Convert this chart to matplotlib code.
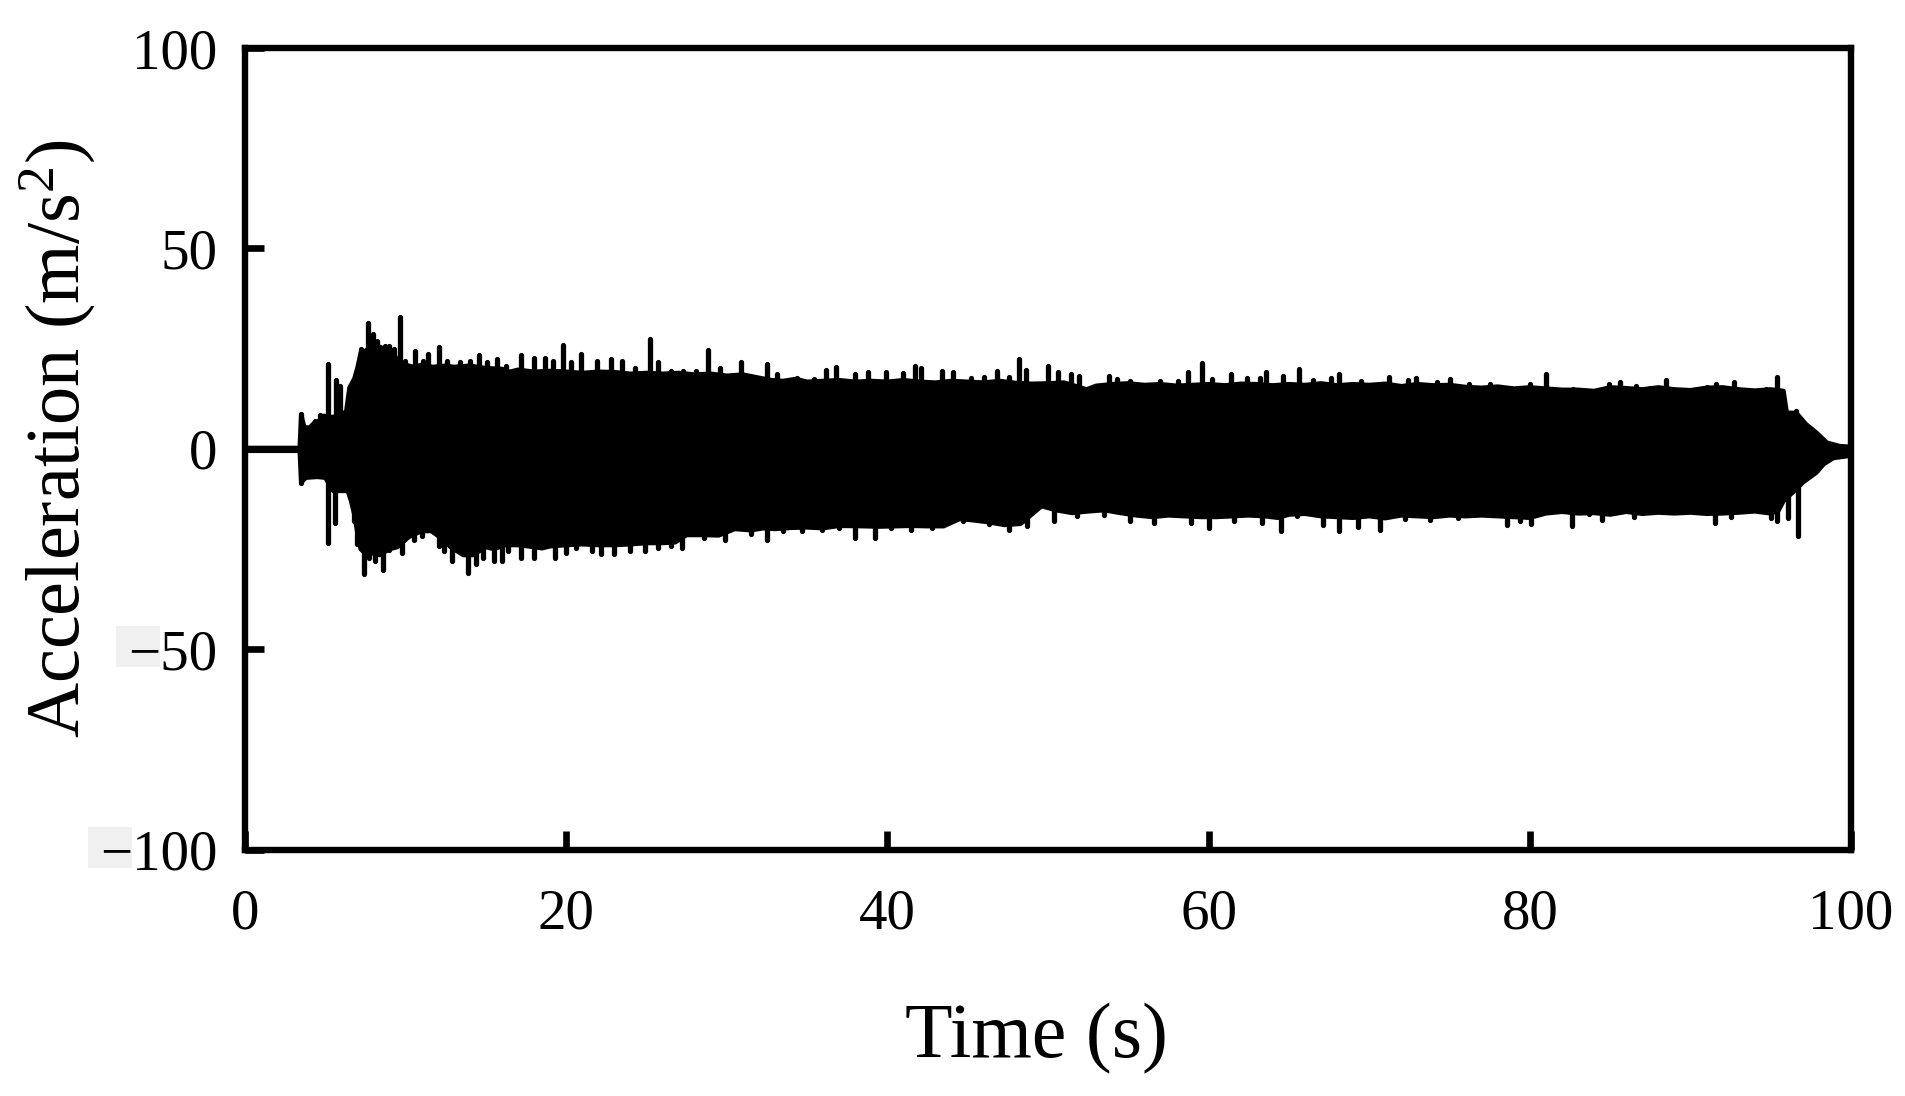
import numpy as np
import matplotlib
matplotlib.use("Agg")
import matplotlib.pyplot as plt
from matplotlib.patches import Rectangle
from matplotlib.transforms import IdentityTransform

plt.rcParams["font.family"] = ["Liberation Serif", "DejaVu Serif"]
plt.rcParams["mathtext.fontset"] = "custom"
plt.rcParams["mathtext.rm"] = "Liberation Serif"
plt.rcParams["mathtext.default"] = "regular"

# upper edge of the record (s, m/s^2)
up_t = [0.0, 3.4, 3.5, 3.7, 4.0, 4.3, 4.6, 4.9, 5.4, 6.0, 6.3, 6.5, 6.8, 7.0, 7.2, 7.5,
        8.0, 8.4, 8.7, 9.2, 9.5, 10.0, 10.5, 11.0, 11.7, 12.5, 13.0, 14.0, 15.0, 16.0,
        16.5, 17.0, 18.0, 19.0, 20.0, 21.0, 22.0, 23.0, 24.0, 25.0, 26.0, 27.0, 28.0,
        29.0, 30.0, 31.0, 32.0, 32.8, 33.5, 34.3, 35.0, 36.0, 37.0, 38.0, 39.0, 40.0,
        41.0, 42.0, 43.0, 44.0, 45.0, 46.0, 47.0, 48.0, 49.0, 50.0, 51.0, 52.4, 53.0,
        54.0, 55.0, 56.0, 57.0, 58.0, 59.0, 60.0, 61.0, 62.0, 63.0, 64.0, 65.0, 66.0,
        67.0, 68.0, 69.0, 70.0, 71.0, 72.0, 73.0, 74.0, 75.0, 76.0, 77.0, 78.0, 79.0,
        80.0, 81.0, 82.0, 83.0, 84.0, 85.0, 86.0, 87.0, 88.0, 89.0, 90.0, 91.0, 92.0,
        93.0, 94.0, 95.0, 95.8, 96.0, 96.6, 97.2, 97.85, 98.5, 99.3, 100.0]
up_a = [0.3, 0.3, 8.7, 5.5, 5.3, 6.5, 7.0, 8.3, 8.0, 8.3, 9.5, 15.3, 17.5, 20.3, 24.0, 24.5,
        26.0, 25.5, 25.0, 24.5, 22.0, 21.0, 20.5, 21.0, 20.5, 20.8, 20.5, 20.8, 20.2, 20.0,
        19.3, 19.8, 19.3, 19.5, 19.3, 19.0, 19.3, 19.2, 18.8, 19.0, 18.8, 19.0, 18.6,
        18.8, 18.3, 18.6, 17.8, 17.2, 17.0, 17.5, 16.8, 17.0, 17.2, 16.8, 17.0, 16.8,
        17.2, 16.8, 16.6, 17.0, 16.8, 16.6, 17.0, 16.5, 16.3, 16.4, 16.6, 14.9, 15.8,
        16.2, 16.4, 16.0, 16.2, 15.8, 16.0, 16.2, 15.9, 16.3, 16.2, 15.9, 16.2, 16.0,
        16.4, 15.9, 16.2, 16.0, 16.3, 15.7, 16.2, 15.9, 16.0, 15.5, 15.3, 15.6, 15.1,
        15.4, 15.1, 14.8, 14.8, 14.5, 15.4, 15.2, 14.9, 15.4, 14.9, 14.7, 15.3, 15.4,
        14.9, 14.6, 14.9, 14.5, 9.1, 9.0, 6.2, 4.1, 1.6, 0.75, 0.6]

# lower edge of the record
lo_t = [0.0, 3.4, 3.5, 3.8, 4.5, 5.0, 5.5, 6.0, 6.4, 6.6, 6.8, 7.0, 7.2, 7.6, 8.0, 8.4,
        9.0, 9.5, 10.2, 11.0, 11.6, 12.3, 12.8, 13.2, 13.6, 14.2, 15.0, 15.5, 16.2,
        17.0, 17.6, 18.5, 19.0, 20.0, 21.0, 22.0, 23.0, 24.0, 25.0, 26.0, 26.8, 27.5,
        28.5, 29.5, 30.5, 31.5, 32.3, 33.0, 34.0, 35.0, 36.0, 37.0, 38.5, 39.5, 40.5,
        41.5, 42.5, 43.5, 44.5, 45.3, 46.3, 47.3, 48.3, 49.1, 49.6, 50.5, 51.5, 52.5,
        53.5, 54.5, 55.5, 56.5, 57.5, 58.5, 59.5, 60.5, 61.5, 62.5, 63.5, 64.3, 65.0,
        66.0, 67.0, 68.0, 69.0, 70.0, 71.0, 72.0, 73.0, 74.0, 75.0, 76.0, 77.0, 78.0,
        79.0, 80.0, 81.0, 82.0, 83.0, 84.0, 85.0, 86.0, 87.0, 88.0, 89.0, 90.0, 91.0,
        92.0, 93.0, 94.0, 95.0, 95.5, 95.8, 96.6, 97.0, 97.85, 98.3, 98.9, 100.0]
lo_a = [-0.5, -0.5, -8.4, -7.2, -7.0, -7.2, -10.5, -10.5, -10.5, -13.0, -16.3, -21.0,
        -25.0, -26.5, -26.0, -26.5, -25.0, -24.5, -22.0, -20.5, -20.5, -22.5, -24.5,
        -25.5, -26.5, -26.5, -24.5, -25.0, -24.0, -24.0, -24.3, -24.8, -24.3, -24.0,
        -23.8, -24.0, -24.0, -23.8, -23.5, -23.5, -23.3, -21.5, -21.5, -21.6, -20.0,
        -20.3, -19.8, -20.0, -19.7, -19.6, -19.8, -19.2, -19.3, -19.4, -19.3, -19.2,
        -19.3, -19.3, -17.5, -17.8, -18.3, -19.0, -18.7, -16.0, -14.3, -15.3, -16.0,
        -15.6, -15.3, -16.0, -16.6, -17.0, -16.6, -16.8, -17.0, -17.0, -16.8, -16.6,
        -16.8, -17.2, -16.4, -16.2, -16.8, -17.0, -17.2, -16.8, -17.3, -16.6, -16.8,
        -17.0, -16.6, -16.8, -16.6, -16.8, -17.0, -17.2, -16.1, -15.7, -16.1, -16.0,
        -16.4, -15.7, -16.2, -15.9, -16.1, -15.9, -16.2, -16.1, -15.9, -15.6, -16.1,
        -15.3, -13.0, -10.0, -8.4, -5.9, -3.8, -2.3, -1.7]

# single positive peaks standing out of the band
peak_up_t = [3.5, 4.35, 4.65, 5.16, 5.64, 5.9, 6.6, 6.9, 7.25, 7.66, 8.0, 8.2, 8.7, 9.0,
             9.3, 9.66, 9.98, 10.6, 11.1, 11.4, 12.1, 12.6, 13.4, 14.0, 14.6, 15.1, 15.7,
             16.25, 17.2, 18.0, 18.7, 19.2, 19.8, 20.3, 20.9, 21.9, 22.8, 23.5, 24.3,
             25.2, 25.7, 26.5, 27.3, 28.1, 28.8, 29.6, 30.9, 32.5, 33.1, 34.4, 35.4,
             36.2, 36.8, 38.0, 38.8, 39.9, 41.0, 41.7, 42.1, 43.4, 44.1, 45.2, 46.0,
             46.8, 47.6, 48.2, 48.6, 50.0, 50.6, 51.4, 51.9, 53.8, 54.3, 55.1, 57.0,
             58.1, 58.7, 59.6, 60.2, 61.4, 62.4, 63.2, 63.6, 64.6, 65.6, 66.5, 67.6,
             68.1, 69.5, 71.2, 72.4, 72.9, 74.2, 75.0, 76.2, 77.5, 78.8, 80.0, 81.0,
             82.7, 84.9, 85.6, 86.6, 87.5, 88.5, 91.0, 91.6, 92.7, 94.7, 95.4, 96.6]
peak_up_a = [8.8, 7.0, 8.5, 21.2, 17.2, 15.75, 15.3, 18.7, 24.9, 31.3, 28.7, 27.0, 25.75,
             25.75, 24.9, 32.8, 22.0, 24.5, 22.0, 23.8, 25.5, 22.0, 21.6, 22.0, 23.5,
             21.6, 22.4, 20.75, 23.4, 22.6, 22.8, 22.0, 26.0, 21.6, 23.7, 22.0, 22.4,
             22.0, 20.3, 27.4, 21.6, 19.5, 19.5, 19.5, 24.7, 20.3, 21.6, 21.2, 18.7,
             17.8, 17.4, 19.75, 20.5, 18.8, 19.25, 19.1, 18.9, 20.75, 20.3, 19.5, 19.1,
             17.8, 18.0, 19.5, 18.0, 22.4, 19.7, 20.75, 19.1, 18.7, 18.3, 18.3, 17.4,
             17.0, 17.0, 17.0, 19.1, 21.4, 17.4, 18.7, 17.8, 17.8, 19.1, 18.3, 19.9,
             17.25, 17.7, 18.8, 17.0, 18.0, 17.2, 17.7, 16.8, 17.4, 16.3, 16.2, 15.2,
             16.2, 18.7, 15.0, 16.3, 16.8, 15.8, 15.2, 17.2, 15.5, 16.2, 16.8, 14.9,
             18.0, 9.5]

# single negative peaks
peak_lo_t = [3.5, 5.2, 5.6, 6.8, 7.0, 7.4, 7.7, 8.1, 8.6, 9.0, 9.8, 10.5, 11.0, 12.1,
             12.4, 12.9, 13.9, 14.4, 14.8, 15.5, 16.0, 16.4, 17.2, 18.0, 19.3, 20.0,
             20.6, 21.6, 22.2, 23.0, 24.0, 24.9, 25.7, 26.5, 27.2, 28.6, 29.9, 31.5,
             32.5, 33.5, 34.7, 35.9, 37.0, 38.0, 39.2, 40.2, 41.5, 42.8, 44.7, 46.3,
             47.6, 48.7, 50.4, 51.8, 53.5, 55.1, 56.6, 58.9, 60.0, 61.6, 63.3, 64.5,
             65.5, 67.1, 68.1, 69.3, 70.7, 72.2, 73.8, 75.5, 78.6, 79.4, 80.1, 81.5,
             82.6, 83.7, 84.5, 86.5, 91.5, 92.5, 95.0, 95.4, 96.1, 96.7]
peak_lo_a = [-8.4, -23.4, -18.4, -18.0, -23.8, -31.3, -27.2, -28.0, -30.1, -25.1, -25.9,
             -22.6, -21.75, -24.25, -25.5, -28.0, -30.9, -28.8, -27.2, -28.0, -28.0,
             -25.5, -27.2, -27.2, -27.2, -25.9, -24.7, -25.5, -26.3, -26.3, -25.5,
             -25.5, -24.7, -24.25, -24.7, -22.2, -22.6, -21.3, -22.6, -20.5, -20.5,
             -20.1, -19.7, -22.2, -22.2, -19.7, -20.1, -19.7, -18.0, -18.8, -20.1,
             -19.25, -18.0, -16.8, -16.5, -18.0, -18.4, -18.4, -19.7, -18.0, -18.4,
             -20.5, -16.8, -19.0, -20.5, -19.5, -20.3, -17.4, -17.8, -17.2, -19.0,
             -18.0, -18.7, -15.5, -19.3, -16.3, -17.6, -17.0, -18.4, -17.0, -17.2,
             -18.0, -17.2, -21.8]

x_ticks = [0, 20, 40, 60, 80, 100]
y_ticks = [-100, -50, 0, 50, 100]

fig = plt.figure(figsize=(19.06, 10.96), dpi=100)
ax = fig.add_axes([0.1285, 0.2245, 0.8427, 0.7317])

env_t = np.concatenate([up_t, lo_t[::-1]])
env_a = np.concatenate([up_a, lo_a[::-1]])
ax.fill(env_t, env_a, facecolor="black", edgecolor="black", lw=3, joinstyle="round")
ax.vlines(peak_up_t, 0, peak_up_a, color="black", lw=3.8, capstyle="round")
ax.vlines(peak_lo_t, 0, peak_lo_a, color="black", lw=3.8, capstyle="round")

ax.set_xlim(0, 100)
ax.set_ylim(-100, 100)
ax.set_xticks(x_ticks)
ax.set_yticks(y_ticks)
for s in ax.spines.values():
    s.set_linewidth(4.6)
ax.tick_params(direction="in", length=13.5, width=4.8, labelsize=41)
ax.tick_params(axis="x", pad=28)
ax.tick_params(axis="y", pad=20)

ax.set_xlabel("Time (s)", fontsize=56)
ax.xaxis.set_label_coords(0.4925, -0.19)
ax.set_ylabel("Acceleration (m/s$^{2}$)", fontsize=55)
ax.yaxis.set_label_coords(-0.092, 0.512)

# light grey patch behind the minus signs, as in the original figure
fig.canvas.draw()
rend = fig.canvas.get_renderer()
for lab in ax.get_yticklabels():
    txt = lab.get_text()
    if txt.startswith("\u2212"):
        prop = lab.get_fontproperties()
        bb = lab.get_window_extent(rend)
        lp_d = rend.get_text_width_height_descent("lp", prop, ismath=False)[2]
        w_all = rend.get_text_width_height_descent(txt, prop, ismath=False)[0]
        w_num, h_num, d_num = rend.get_text_width_height_descent(txt[1:], prop, ismath=False)
        base = bb.y0 + lp_d
        fig.add_artist(Rectangle((bb.x0 - 12, base + 2), w_all - w_num + 12, h_num - d_num + 3,
                                 transform=IdentityTransform(),
                                 facecolor="#f0f0f0", edgecolor="none", zorder=-1))

fig.savefig("out.png", dpi=100)
